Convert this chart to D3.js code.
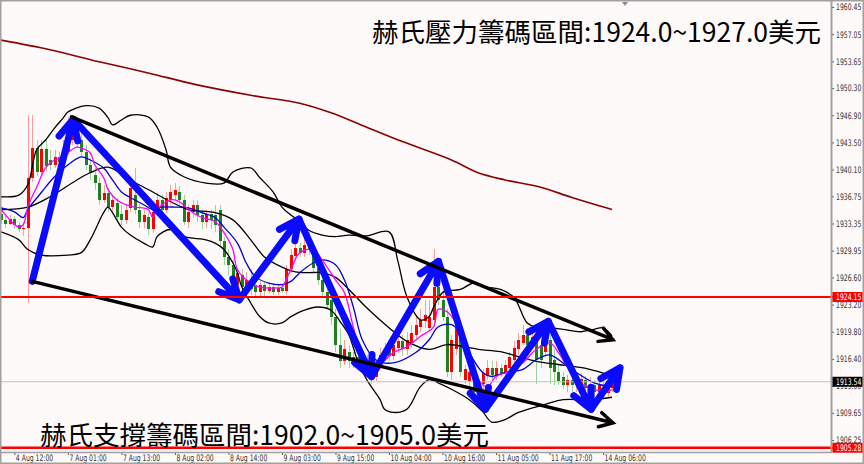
<!DOCTYPE html>
<html>
<head>
<meta charset="utf-8">
<script src="https://cdn.jsdelivr.net/npm/d3@7"></script>
<style>
body { margin: 0; background: #fff; }
svg { display: block; }
</style>
</head>
<body>
<svg id="chart"></svg>
<script>
var width = 864,
	height = 464;
var plot = ({left: 1, top: 1, right: 831, bottom: 452});
var squeeze = 0.68; // the terminal's axis font is narrow

// hourly XAUUSD candles, 4 Aug 09:00 .. 14 Aug 08:00
var opens = [1934.6,1933.8,1933.3,1933.9,1933.2,1932.7,1932.8,1939.1,1942.8,1939.8,
	1942.7,1941.3,1940.7,1941.7,1941.6,1942.3,1943.8,1945.3,1943.8,1942.3,
	1940.7,1939.4,1938.4,1936.3,1937.2,1935.4,1935.9,1934.6,1933.8,1935.3,
	1936.9,1935.1,1933.6,1934.2,1932.6,1934.8,1936.3,1935.1,1936.3,1936.9,
	1937.3,1936.3,1933.6,1934.8,1935.7,1934.4,1933.6,1934.6,1934.4,1935.1,
	1931.1,1929.1,1928.2,1925.7,1926.9,1925.4,1926.3,1925.7,1924.8,1925.6,
	1924.9,1925.4,1924.8,1925.3,1924.9,1927.6,1929.3,1930.3,1929.7,1930.7,
	1930.1,1927.8,1926.3,1924.8,1923.8,1921.6,1918.2,1916.1,1917.3,1916.1,
	1916.6,1915.8,1916.3,1914.8,1914.1,1915.6,1916.8,1917.8,1916.8,1917.8,
	1918.6,1917.6,1918.4,1919.4,1920.4,1921.1,1920.3,1921.3,1925.4,1923.8,
	1921.7,1914.8,1917.6,1920.1,1913.8,1913.6,1913.8,1912.8,1913.2,1914.3,
	1915.3,1914.3,1915.3,1914.6,1915.3,1916.3,1917.6,1918.4,1919.4,1918.2,
	1919.2,1918.2,1917.3,1918.8,1916.3,1914.8,1914.1,1913.1,1913.8,1913.1,
	1913.2,1913.8,1912.6,1913.1,1912.3,1912.8,1912.1,1912.8];
var highs = [1935.1,1934.3,1934.4,1934.3,1933.6,1933.6,1946.9,1946.9,1943.8,1943.8,
	1943.8,1942.6,1942.6,1942.3,1943.8,1946.7,1946.9,1946.6,1945.7,1943.2,
	1941.6,1940.3,1939.1,1938.2,1937.8,1936.9,1936.6,1935.7,1935.7,1938.8,
	1940.3,1935.8,1935.1,1934.8,1935.3,1937.2,1936.9,1937.3,1938.2,1938.4,
	1938.1,1936.9,1935.7,1936.3,1936.3,1935.1,1935.1,1935.1,1935.7,1935.7,
	1931.6,1930.1,1928.8,1927.8,1927.6,1927.3,1927.6,1926.6,1926.1,1926.1,
	1925.9,1925.9,1925.8,1925.8,1928.1,1930.1,1931.3,1930.9,1931.6,1932.3,
	1930.7,1928.8,1926.9,1925.7,1924.4,1922.6,1920.1,1918.8,1918.2,1917.3,
	1917.3,1917.1,1916.9,1915.3,1916.3,1917.8,1918.4,1918.8,1919.1,1920.1,
	1919.4,1919.8,1920.6,1921.9,1922.6,1923.8,1923.8,1930.1,1927.6,1925.1,
	1922.6,1919.4,1921.1,1920.7,1915.7,1915.3,1914.4,1913.3,1915.1,1916.3,
	1916.1,1916.1,1915.8,1916.3,1917.3,1918.6,1919.7,1920.6,1920.3,1920.1,
	1920.1,1920.1,1920.1,1919.4,1917.6,1915.7,1914.8,1914.4,1914.3,1914.6,
	1914.6,1914.3,1914.1,1913.8,1913.8,1913.6,1913.3,1913.8];
var lows = [1933.3,1932.8,1933.1,1932.7,1932.3,1931.8,1923.4,1938.6,1939.3,1939.3,
	1939.8,1940.1,1940.3,1940.6,1941.1,1941.9,1943.2,1942.8,1941.6,1940.1,
	1938.8,1937.6,1935.7,1935.9,1934.8,1934.7,1933.6,1933.2,1933.3,1934.8,
	1934.6,1932.8,1932.8,1931.9,1932.2,1934.4,1934.4,1934.7,1935.7,1936.3,
	1935.7,1933.1,1932.8,1934.1,1933.6,1932.6,1932.8,1932.6,1932.3,1930.3,
	1928.2,1926.9,1925.1,1923.8,1924.8,1924.8,1924.4,1924.3,1924.3,1924.3,
	1924.6,1924.4,1924.4,1924.6,1924.4,1927.1,1928.6,1929.1,1929.2,1929.4,
	1927.3,1925.7,1924.1,1922.6,1920.7,1917.3,1915.3,1915.6,1915.3,1915.3,
	1915.1,1915.1,1914.1,1913.3,1913.6,1915.1,1916.1,1916.1,1916.3,1917.1,
	1916.8,1916.9,1917.8,1918.8,1919.8,1920.3,1919.8,1920.8,1923.2,1921.1,
	1914.1,1913.8,1916.9,1914.1,1913.3,1912.8,1911.6,1911.3,1911.1,1913.8,
	1913.8,1913.8,1914.1,1914.1,1914.8,1915.8,1916.9,1918.1,1917.6,1917.6,
	1913.2,1915.3,1916.8,1913.2,1913.1,1913.1,1912.6,1912.3,1912.3,1912.3,
	1911.8,1911.6,1911.8,1911.6,1911.8,1911.3,1911.6,1912.3];
var closes = [1933.8,1933.3,1933.9,1933.2,1932.7,1932.8,1939.1,1942.8,1939.8,1942.7,
	1940.6,1940.7,1941.7,1941.1,1942.6,1944.1,1945.3,1943.8,1942.3,1940.7,
	1939.7,1938.4,1936.3,1937.2,1935.4,1936.3,1934.2,1933.8,1935.1,1937.8,
	1935.1,1933.6,1934.4,1932.6,1934.8,1936.3,1935.1,1936.6,1937.3,1937.6,
	1936.3,1933.6,1934.8,1935.7,1934.4,1933.6,1934.6,1933.8,1933.2,1931.1,
	1929.1,1928.2,1926.1,1927.1,1925.4,1926.3,1925.1,1924.8,1925.6,1924.9,
	1925.4,1924.8,1925.3,1924.9,1927.6,1929.4,1930.3,1929.7,1930.7,1930.1,
	1927.8,1926.3,1924.8,1923.2,1921.6,1918.2,1916.1,1917.6,1916.1,1916.6,
	1915.8,1916.3,1914.8,1914.1,1915.6,1916.9,1917.6,1916.8,1918.2,1918.6,
	1917.6,1918.8,1919.7,1920.7,1921.3,1921.9,1921.6,1925.4,1923.8,1921.7,
	1914.8,1918.8,1920.3,1914.8,1915.1,1914.8,1912.3,1911.9,1914.6,1915.3,
	1914.4,1915.3,1914.6,1915.6,1916.6,1917.8,1918.8,1919.4,1918.1,1919.2,
	1916.3,1916.3,1918.8,1915.3,1914.8,1913.6,1913.1,1913.8,1913.1,1913.8,
	1913.9,1912.8,1913.3,1912.3,1913.1,1912.1,1912.8,1913.54];

// time axis: bar index of each label
var timeTicks = [3, 15, 27, 39, 51, 63, 75, 87, 99, 111, 123, 135];
var timeLabels = ["4 Aug 12:00", "7 Aug 01:00", "7 Aug 13:00", "8 Aug 02:00", "8 Aug 14:00",
	"9 Aug 03:00", "9 Aug 15:00", "10 Aug 04:00", "10 Aug 16:00", "11 Aug 05:00",
	"11 Aug 17:00", "14 Aug 06:00"];
var priceTicks = [1960.45, 1957.05, 1953.65, 1950.30, 1946.90, 1943.50, 1940.10, 1936.75,
	1933.35, 1929.95, 1926.60, 1923.20, 1919.80, 1916.40, 1913.00, 1909.65, 1906.25];

// indicators, [bar index, price]
var bbUpper = [[0,1936.7],[4,1936.9],[6,1938.2],[8,1942.6],[10,1943.8],[12,1945.3],[14,1946.6],[15,1947.3],
	[19,1948.1],[22,1947.8],[24,1946.6],[25,1945.7],[27,1946.3],[29,1946.9],[33,1946.7],[35,1945.4],
	[37,1942.6],[38,1940.4],[41,1939.2],[46,1938.4],[50,1938.4],[52,1939.8],[56,1940.3],[58,1939.1],
	[61,1937.3],[63,1935.4],[65,1934.4],[67,1933.6],[69,1932.5],[72,1931.9],[75,1931.7],[78,1931.9],
	[82,1931.8],[87,1932.3],[89,1928.6],[91,1924.2],[94,1921.3],[96,1921.7],[97,1922.9],[99,1924.7],
	[100,1924.9],[103,1925.1],[106,1925.9],[109,1925.4],[112,1925.1],[115,1924.1],[118,1920.9],
	[120,1920.4],[123,1920.3],[126,1920.1],[130,1919.8],[133,1920.1],[135,1920.3],[137,1919.3]];
var bbMiddle = [[0,1935.1],[6,1935.4],[11,1936.7],[17,1938.8],[20,1939.7],[24,1940.4],[29,1938.8],
	[33,1937.6],[38,1936.1],[42,1935.1],[48,1934.7],[52,1933.8],[56,1931.3],[59,1929.2],[63,1927.9],
	[66,1927.3],[69,1927.2],[72,1927.2],[75,1926.6],[78,1925.1],[82,1922.8],[87,1920.3],[91,1918.6],
	[96,1917.6],[100,1918.2],[107,1917.6],[112,1917.3],[116,1916.7],[120,1916.1],[125,1915.7],
	[129,1915.4],[132,1915.1],[137,1914.3]];
var bbLower = [[0,1932.3],[4,1931.3],[6,1930.1],[9,1929.4],[15,1929.4],[18,1929.7],[20,1931.3],
	[23,1934.7],[24,1935.4],[25,1934.7],[27,1932.9],[29,1931.9],[32,1930.9],[34,1930.4],[35,1931.7],
	[38,1932.6],[41,1931.7],[46,1931.3],[48,1930.9],[50,1930.1],[52,1928.4],[53,1927.2],[54,1925.4],
	[56,1923.4],[58,1921.7],[60,1920.9],[63,1920.9],[65,1921.7],[68,1922.5],[71,1922.9],[74,1922.5],
	[76,1921.1],[78,1919.4],[80,1916.1],[82,1913.8],[85,1911.3],[86,1910.1],[88,1909.7],[91,1910.1],
	[94,1912.9],[96,1913.8],[98,1913.4],[101,1912.6],[105,1911.3],[108,1909.8],[110,1908.5],
	[113,1908.8],[116,1909.7],[122,1910.7],[126,1911.3],[132,1911.3],[137,1911.6]];
var maFast = [[0,1935.1],[2,1933.8],[4,1932.9],[5,1933.2],[6,1935.4],[8,1937.9],[10,1940.3],[12,1941.3],
	[14,1941.6],[15,1942.2],[17,1942.9],[18,1942.8],[20,1942.2],[21,1940.7],[23,1939.1],[24,1937.6],
	[26,1936.3],[28,1935.7],[30,1935.4],[33,1935.1],[34,1934.1],[35,1935.1],[38,1936.3],[40,1936.1],
	[42,1935.1],[45,1934.1],[48,1933.6],[50,1932.2],[52,1930.1],[53,1927.6],[56,1925.9],[58,1925.4],
	[62,1925.3],[63,1925.4],[65,1927.6],[67,1929.7],[70,1930.1],[72,1928.8],[75,1926.3],[77,1924.7],
	[79,1920.4],[81,1916.7],[85,1915.9],[88,1917.2],[91,1917.9],[94,1919.2],[97,1920.4],[98,1922.6],
	[100,1922.3],[102,1920.9],[104,1917.9],[106,1914.7],[109,1912.9],[111,1914.2],[114,1914.8],
	[117,1915.9],[120,1917.6],[123,1918.4],[125,1917.2],[127,1915.4],[130,1913.4],[133,1912.6],
	[136,1912.3],[137,1912.6]];
var maSlow = [[0,1935.3],[3,1934.8],[5,1934.1],[6,1935.1],[9,1937.2],[12,1939.2],[16,1941.1],[18,1941.7],
	[20,1941.3],[23,1940.3],[25,1938.8],[27,1937.3],[29,1936.6],[32,1935.7],[34,1935.1],[36,1935.4],
	[39,1935.4],[42,1935.3],[45,1934.7],[48,1934.1],[50,1932.9],[53,1930.9],[55,1928.4],[57,1926.7],
	[60,1925.9],[63,1925.7],[65,1926.1],[67,1927.2],[70,1928.4],[72,1928.8],[75,1928.2],[77,1926.3],
	[79,1922.9],[81,1918.8],[84,1916.3],[88,1915.9],[93,1917.2],[96,1918.8],[98,1920.4],[101,1920.7],
	[103,1919.7],[105,1917.2],[108,1914.7],[110,1914.2],[113,1914.7],[117,1915.1],[120,1916.3],
	[123,1916.9],[126,1915.9],[129,1914.7],[133,1913.4],[137,1912.9]];
var maLong = [[0,1956.3],[11,1955.1],[22,1953.6],[33,1952.2],[44,1950.7],[56,1949.4],[67,1948.4],
	[74,1947.2],[82,1945.4],[90,1943.6],[101,1941.3],[107,1939.7],[113,1938.8],[121,1937.9],
	[128,1936.6],[137,1935.1]];

// hand drawn annotations, [bar index, price]
var zigzag = [[7,1926.1],[16.2,1946.4],[53.4,1923.8],[66.8,1933.9],[83.1,1914.2],[98.1,1928.6],
	[108.6,1910.1],[122.7,1921.1],[132.3,1910.1],[138.8,1915.3]];
var channelTop = [[15.8,1946.7],[137.2,1918.8]];
var channelBottom = [[7,1926.1],[137.2,1908.4]];

var resistLevel = 1924.15,
	supportLevel = 1905.28,
	bidPrice = 1913.54;
var titleTop = "赫氏壓力籌碼區間:1924.0~1927.0美元";
var titleBottom = "赫氏支撐籌碼區間:1902.0~1905.0美元";

var x = d3.scaleLinear()
	.domain([0, 137])
	.range([1, 612]);
var y = d3.scaleLinear()
	.domain([1906.25, 1960.45])
	.range([440, 7]);

var svg = d3.select('#chart')
	.attr('width', width)
	.attr('height', height);

svg.append('rect')
	.attr('width', width)
	.attr('height', height)
	.attr('fill', '#fffafa');

svg.append('clipPath')
	.attr('id', 'plotClip')
	.append('rect')
	.attr('x', plot.left)
	.attr('y', plot.top)
	.attr('width', plot.right - plot.left)
	.attr('height', plot.bottom - plot.top);

var chart = svg.append('g').attr('clip-path', 'url(#plotClip)');

// candles
var bars = closes.map(function(c, i){
	return {i: i, o: opens[i], h: highs[i], l: lows[i], c: c};
});
var candles = chart.append('g')
	.attr('shape-rendering', 'crispEdges')
	.selectAll('g')
	.data(bars)
	.join('g');
candles.append('line')
	.attr('x1', d => Math.round(x(d.i)) + 0.5)
	.attr('x2', d => Math.round(x(d.i)) + 0.5)
	.attr('y1', d => y(d.h))
	.attr('y2', d => y(d.l))
	.attr('stroke', d => (d.c >= d.o) ? '#ff9c9c' : '#98d498');
candles.append('rect')
	.attr('x', d => Math.round(x(d.i)) - 1)
	.attr('y', d => y(Math.max(d.o, d.c)))
	.attr('width', 3)
	.attr('height', d => Math.max(1, Math.abs(y(d.o) - y(d.c))))
	.attr('fill', d => (d.c >= d.o) ? '#ff0000' : '#1f801f');

// indicator lines
var curve = d3.line()
	.x(d => x(d[0]))
	.y(d => y(d[1]))
	.curve(d3.curveCatmullRom.alpha(0.5));

[[bbUpper, '#000', 1.3], [bbMiddle, '#000', 1.3], [bbLower, '#000', 1.3],
	[maSlow, '#0000d0', 1.3], [maFast, '#ff00ff', 1.3], [maLong, '#8b0000', 1.6]]
	.forEach(function(s){
		chart.append('path')
			.attr('d', curve(s[0]))
			.attr('fill', 'none')
			.attr('stroke', s[1])
			.attr('stroke-width', s[2]);
	});

// price levels
chart.append('line')
	.attr('x1', plot.left).attr('x2', plot.right)
	.attr('y1', y(bidPrice)).attr('y2', y(bidPrice))
	.attr('stroke', '#c0c0c8')
	.attr('stroke-width', 1);
[resistLevel, supportLevel].forEach(function(v){
	svg.append('line')
		.attr('x1', plot.left).attr('x2', plot.right + 2)
		.attr('y1', y(v)).attr('y2', y(v))
		.attr('stroke', '#ff0000')
		.attr('stroke-width', v == supportLevel ? 2.5 : 2);
});

// arrows
function arrowHead(p, from, len, spread){
	var a = Math.atan2(p[1] - from[1], p[0] - from[0]) + Math.PI;
	return [[p[0] + len * Math.cos(a - spread), p[1] + len * Math.sin(a - spread)], p,
		[p[0] + len * Math.cos(a + spread), p[1] + len * Math.sin(a + spread)]];
}
var px = d => [x(d[0]), y(d[1])];
var seg = d3.line();

var zz = zigzag.map(px);
for (var k = 1; k < zz.length; k++){
	chart.append('path')
		.attr('d', seg([zz[k-1], zz[k]]) + seg(arrowHead(zz[k], zz[k-1], 22, 0.45)))
		.attr('fill', 'none')
		.attr('stroke', '#0a0aff')
		.attr('stroke-width', 7)
		.attr('stroke-linecap', 'round')
		.attr('stroke-linejoin', 'round');
}
[channelTop, channelBottom].forEach(function(c){
	var p = c.map(px);
	chart.append('path')
		.attr('d', seg(p) + seg(arrowHead(p[1], p[0], 15, 0.5)))
		.attr('fill', 'none')
		.attr('stroke', '#000')
		.attr('stroke-width', 3.5)
		.attr('stroke-linecap', 'round');
});

// axes
var yAxis = g => g
	.attr('transform', 'translate(' + plot.right + ',0)')
	.call(d3.axisRight(y).tickValues(priceTicks).tickFormat(d3.format('.2f')).tickSize(3))
	.call(g => g.select('.domain').remove())
	.call(g => g.selectAll('.tick line').attr('stroke', '#555'))
	.call(g => g.selectAll('.tick text')
		.attr('fill', '#333')
		.attr('font-size', 9)
		.attr('font-family', '"DejaVu Sans", sans-serif')
		.attr('x', 5 / squeeze)
		.attr('transform', 'scale(' + squeeze + ',1)'));
svg.append('g').call(yAxis);

var xAxis = g => g
	.attr('transform', 'translate(0,' + plot.bottom + ')')
	.call(d3.axisBottom(x).tickValues(timeTicks).tickFormat((d, i) => timeLabels[i]).tickSize(3))
	.call(g => g.select('.domain').remove())
	.call(g => g.selectAll('.tick line').attr('stroke', '#555'))
	.call(g => g.selectAll('.tick text')
		.attr('fill', '#333')
		.attr('font-size', 9)
		.attr('font-family', '"DejaVu Sans", sans-serif')
		.attr('text-anchor', 'start')
		.attr('x', 1 / squeeze)
		.attr('y', 3)
		.attr('transform', 'scale(' + squeeze + ',1)'));
svg.append('g').call(xAxis);

// frame
svg.append('line')
	.attr('x1', plot.right + 0.5).attr('x2', plot.right + 0.5)
	.attr('y1', 0).attr('y2', plot.bottom)
	.attr('stroke', '#a0a0a0').attr('stroke-width', 2);
svg.append('line')
	.attr('x1', 0).attr('x2', plot.right + 1)
	.attr('y1', plot.bottom + 0.5).attr('y2', plot.bottom + 0.5)
	.attr('stroke', '#a0a0a0').attr('stroke-width', 1.5);
svg.append('rect')
	.attr('x', 0.75).attr('y', 0.75)
	.attr('width', width - 1.5).attr('height', height - 1.5)
	.attr('fill', 'none')
	.attr('stroke', '#a0a0a0')
	.attr('stroke-width', 1.5);
svg.append('path')
	.attr('d', 'M' + (x(137) + 10) + ',2 l6,0 l-3,4 z')
	.attr('fill', '#8a8a9a');

// price tags on the axis
[[resistLevel, '#ff0000'], [bidPrice, '#000'], [supportLevel, '#ff0000']].forEach(function(t){
	svg.append('rect')
		.attr('x', plot.right + 1.5)
		.attr('y', y(t[0]) - 5)
		.attr('width', 30)
		.attr('height', 10)
		.attr('fill', t[1]);
	svg.append('text')
		.attr('transform', 'translate(' + (plot.right + 5) + ',' + (y(t[0]) + 3.5) + ') scale(' + squeeze + ',1)')
		.attr('fill', '#fff')
		.attr('font-size', 9)
		.attr('font-family', '"DejaVu Sans", sans-serif')
		.text(d3.format('.2f')(t[0]));
});

// titles
svg.append('text')
	.attr('x', 821)
	.attr('y', 42)
	.attr('text-anchor', 'end')
	.attr('font-family', '"Noto Sans CJK TC", sans-serif')
	.attr('font-size', 26.5)
	.attr('fill', '#000')
	.text(titleTop);
svg.append('text')
	.attr('x', 40)
	.attr('y', 445)
	.attr('font-family', '"Noto Sans CJK TC", sans-serif')
	.attr('font-size', 26.5)
	.attr('fill', '#000')
	.text(titleBottom);
</script>
</body>
</html>
